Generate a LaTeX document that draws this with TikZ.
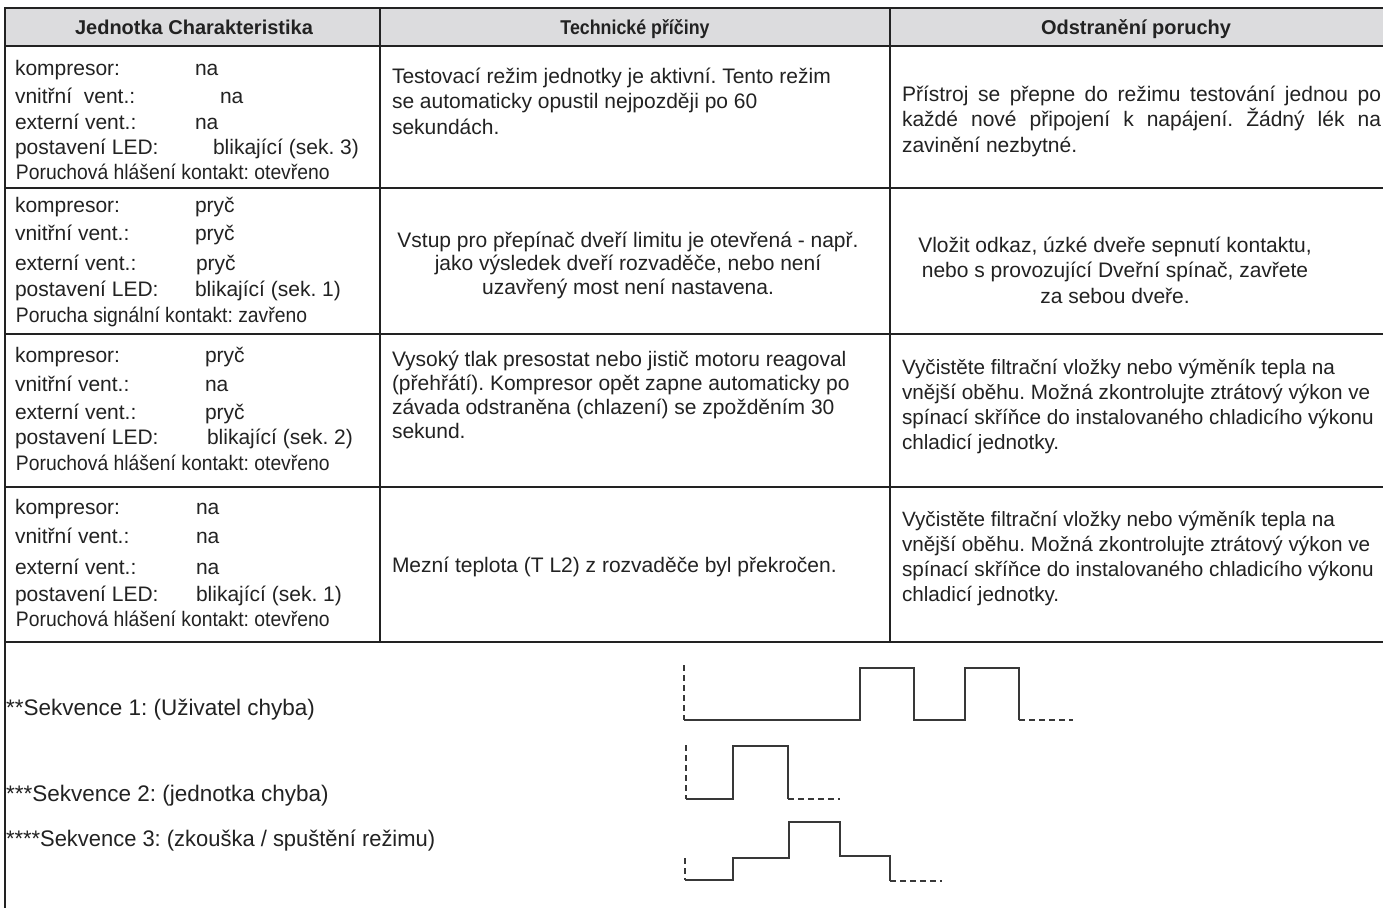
\documentclass[tikz,border=0pt]{standalone}
\usepackage{fontspec}
\usepackage{graphicx}
\setmainfont{Liberation Sans}
\frenchspacing
\definecolor{ink}{HTML}{222222}
\definecolor{hdrfill}{HTML}{DCDCDE}
\newcommand\bodyf{\fontsize{21}{25}\selectfont\frenchspacing}
\newcommand\rightf{\fontsize{20.7}{25}\selectfont\frenchspacing}
\newcommand\hdrf{\fontsize{20}{24}\selectfont\bfseries}
\newcommand\seqf{\fontsize{22.5}{27}\selectfont}
\newcommand\cond[1]{\scalebox{0.92}[1]{#1}}
\begin{document}
\begin{tikzpicture}[x=1pt,y=-1pt,
  txt/.style={anchor=base west, inner sep=0, outer sep=0, font=\bodyf, text=ink},
  rtxt/.style={anchor=base west, inner sep=0, outer sep=0, font=\rightf, text=ink},
  ctxt/.style={anchor=base, inner sep=0, outer sep=0, font=\bodyf, text=ink},
  hd/.style={anchor=base, inner sep=0, outer sep=0, font=\hdrf, text=ink},
  seq/.style={anchor=base west, inner sep=0, outer sep=0, font=\seqf, text=ink},
  hrule/.style={line width=2.6pt, draw=ink},
  vrule/.style={line width=2.2pt, draw=ink},
  wave/.style={line width=1.5pt, draw=ink!90},
  wdash/.style={line width=1.5pt, draw=ink!90, dash pattern=on 6pt off 4pt}]
\useasboundingbox (0,0) rectangle (1383,908);
\fill[white] (0,0) rectangle (1383,908);
% header fill
\fill[hdrfill] (5,8) rectangle (1383,46);
% grid
\draw[hrule] (4,8) -- (1383,8);
\draw[hrule] (4,46) -- (1383,46);
\draw[hrule] (4,188) -- (1383,188);
\draw[hrule] (4,334) -- (1383,334);
\draw[hrule] (4,487) -- (1383,487);
\draw[hrule] (4,642) -- (1383,642);
\draw[vrule] (5,7) -- (5,908);
\draw[vrule] (380,8) -- (380,642);
\draw[vrule] (890,8) -- (890,642);
% header
\node[hd] (h1) at (194,34) {Jednotka Charakteristika};
\node[hd] (h2) at (635,34) {\scalebox{0.89}[1]{Technické příčiny}};
\node[hd] (h3) at (1136,34) {Odstranění poruchy};
% row 1 col 1
\node[txt] (a1k) at (15,75) {kompresor:};
\node[txt] (a1kv) at (195,75) {na};
\node[txt] (a1i) at (15,103) {vnitřní~ vent.:};
\node[txt] (a1iv) at (220,103) {na};
\node[txt] (a1e) at (15,129) {externí vent.:};
\node[txt] (a1ev) at (195,129) {na};
\node[txt] (a1l) at (15,154) {postavení LED:};
\node[txt] (a1lv) at (213,154) {blikající (sek. 3)};
\node[txt] (a1p) at (16,179) {\cond{Poruchová hlášení kontakt: otevřeno}};
% row 2 col 1
\node[txt] (a2k) at (15,212) {kompresor:};
\node[txt] (a2kv) at (195,212) {pryč};
\node[txt] (a2i) at (15,240) {vnitřní vent.:};
\node[txt] (a2iv) at (195,240) {pryč};
\node[txt] (a2e) at (15,270) {externí vent.:};
\node[txt] (a2ev) at (196,270) {pryč};
\node[txt] (a2l) at (15,296) {postavení LED:};
\node[txt] (a2lv) at (195,296) {blikající (sek. 1)};
\node[txt] (a2p) at (16,322) {\cond{Porucha signální kontakt: zavřeno}};
% row 3 col 1
\node[txt] (a3k) at (15,362) {kompresor:};
\node[txt] (a3kv) at (205,362) {pryč};
\node[txt] (a3i) at (15,391) {vnitřní vent.:};
\node[txt] (a3iv) at (205,391) {na};
\node[txt] (a3e) at (15,419) {externí vent.:};
\node[txt] (a3ev) at (205,419) {pryč};
\node[txt] (a3l) at (15,444) {postavení LED:};
\node[txt] (a3lv) at (207,444) {blikající (sek. 2)};
\node[txt] (a3p) at (16,470) {\cond{Poruchová hlášení kontakt: otevřeno}};
% row 4 col 1
\node[txt] (a4k) at (15,514) {kompresor:};
\node[txt] (a4kv) at (196,514) {na};
\node[txt] (a4i) at (15,543) {vnitřní vent.:};
\node[txt] (a4iv) at (196,543) {na};
\node[txt] (a4e) at (15,574) {externí vent.:};
\node[txt] (a4ev) at (196,574) {na};
\node[txt] (a4l) at (15,601) {postavení LED:};
\node[txt] (a4lv) at (196,601) {blikající (sek. 1)};
\node[txt] (a4p) at (16,626) {\cond{Poruchová hlášení kontakt: otevřeno}};
% col 2
\node[txt] (b1a) at (392,83) {Testovací režim jednotky je aktivní. Tento režim};
\node[txt] (b1b) at (392,108) {se automaticky opustil nejpozději po 60};
\node[txt] (b1c) at (392,134) {sekundách.};
\node[ctxt] (b2a) at (628,247) {Vstup pro přepínač dveří limitu je otevřená - např.};
\node[ctxt] (b2b) at (628,270) {jako výsledek dveří rozvaděče, nebo není};
\node[ctxt] (b2c) at (628,294) {uzavřený most není nastavena.};
\node[txt] (b3a) at (392,366) {Vysoký tlak presostat nebo jistič motoru reagoval};
\node[txt] (b3b) at (392,390) {(přehřátí). Kompresor opět zapne automaticky po};
\node[txt] (b3c) at (392,414) {závada odstraněna (chlazení) se zpožděním 30};
\node[txt] (b3d) at (392,438) {sekund.};
\node[txt] (b4a) at (392,572) {Mezní teplota (T L2) z rozvaděče byl překročen.};
% col 3
\node[txt] (c1a) at (902,101) {\makebox[479pt][s]{Přístroj se přepne do režimu testování jednou po}};
\node[txt] (c1b) at (902,126) {\makebox[479pt][s]{každé nové připojení k napájení. Žádný lék na}};
\node[txt] (c1c) at (902,152) {zavinění nezbytné.};
\node[ctxt] (c2a) at (1115,252) {Vložit odkaz, úzké dveře sepnutí kontaktu,};
\node[ctxt] (c2b) at (1115,277) {nebo s provozující Dveřní spínač, zavřete};
\node[ctxt] (c2c) at (1115,303) {za sebou dveře.};
\node[rtxt] (c3a) at (902,374) {Vyčistěte filtrační vložky nebo výměník tepla na};
\node[rtxt] (c3b) at (902,399) {vnější oběhu. Možná zkontrolujte ztrátový výkon ve};
\node[rtxt] (c3c) at (902,424) {spínací skříňce do instalovaného chladicího výkonu};
\node[rtxt] (c3d) at (902,449) {chladicí jednotky.};
\node[rtxt] (c4a) at (902,526) {Vyčistěte filtrační vložky nebo výměník tepla na};
\node[rtxt] (c4b) at (902,551) {vnější oběhu. Možná zkontrolujte ztrátový výkon ve};
\node[rtxt] (c4c) at (902,576) {spínací skříňce do instalovaného chladicího výkonu};
\node[rtxt] (c4d) at (902,601) {chladicí jednotky.};
% sequences
\node[seq] (s1) at (6,715) {**Sekvence 1: (Uživatel chyba)};
\node[seq] (s2) at (6,801) {***Sekvence 2: (jednotka chyba)};
\node[seq] (s3) at (6,846) {\scalebox{0.975}[1]{****Sekvence 3: (zkouška / spuštění režimu)}};
% waveform 1
\draw[wdash] (684,665) -- (684,720);
\draw[wave] (684,720) -- (860,720) -- (860,668) -- (914,668) -- (914,720) -- (965,720) -- (965,668) -- (1019,668) -- (1019,720);
\draw[wdash] (1019,720) -- (1073,720);
% waveform 2
\draw[wdash] (686,745) -- (686,799);
\draw[wave] (686,799) -- (733,799) -- (733,746) -- (788,746) -- (788,799);
\draw[wdash] (788,799) -- (840,799);
% waveform 3
\draw[wdash] (685,858) -- (685,880);
\draw[wave] (685,880) -- (733,880) -- (733,858) -- (789,858) -- (789,822) -- (840,822) -- (840,856) -- (890,856) -- (890,881);
\draw[wdash] (890,881) -- (942,881);
\end{tikzpicture}
\end{document}
